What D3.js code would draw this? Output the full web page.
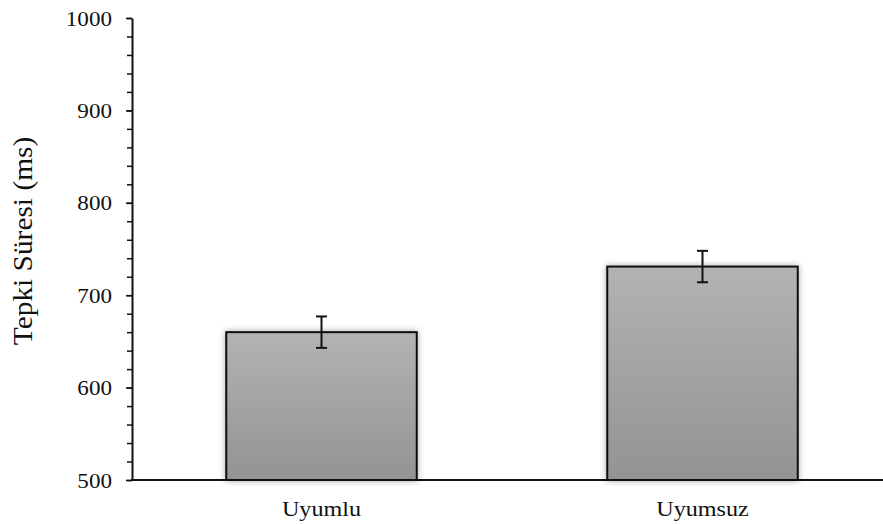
<!DOCTYPE html>
<html>
<head>
<meta charset="utf-8">
<script src="https://cdn.jsdelivr.net/npm/d3@7"></script>
<style>
  html, body { margin: 0; padding: 0; background: #fff; }
  svg { display: block; }
  text { font-family: "Liberation Serif", "Times New Roman", serif; fill: #111; }
</style>
</head>
<body>
<svg id="chart" width="883" height="524"></svg>
<script>
const categories = ["Uyumlu", "Uyumsuz"];
const means = [660, 731];
const errors = [17, 17];
const yTicks = [500, 600, 700, 800, 900, 1000];
const yMinorTicks = d3.range(500, 1001, 20);
const yTitle = "Tepki Süresi (ms)";

const svg = d3.select("#chart");
const W = 883, H = 524;
const plotLeft = 132, plotTop = 18, plotBottom = 480;

const x = d3.scaleBand().domain(categories).range([131, 893])
  .paddingInner(0.5).paddingOuter(0.25);
const y = d3.scaleLinear().domain([500, 1000]).range([plotBottom, plotTop]);

const defs = svg.append("defs");
const grad = defs.append("linearGradient").attr("id", "barGrad")
  .attr("x1", 0).attr("y1", 0).attr("x2", 0).attr("y2", 1);
grad.append("stop").attr("offset", "0%").attr("stop-color", "#b3b3b3");
grad.append("stop").attr("offset", "100%").attr("stop-color", "#939393");
const f = defs.append("filter").attr("id", "shadow")
  .attr("x", "-10%").attr("y", "-10%").attr("width", "120%").attr("height", "120%");
f.append("feDropShadow").attr("dx", 0).attr("dy", 0).attr("stdDeviation", 3)
  .attr("flood-color", "#000").attr("flood-opacity", 0.35);

// bars
svg.append("g").selectAll("rect").data(categories).join("rect")
  .attr("x", d => x(d))
  .attr("y", (d, i) => y(means[i]))
  .attr("width", x.bandwidth())
  .attr("height", (d, i) => y(500) - y(means[i]))
  .attr("fill", "url(#barGrad)")
  .attr("stroke", "#111")
  .attr("stroke-width", 2)
  .attr("filter", "url(#shadow)");

// error bars
const eb = svg.append("g").attr("stroke", "#111").attr("stroke-width", 2);
categories.forEach((c, i) => {
  const cx = x(c) + x.bandwidth() / 2;
  const y1 = y(means[i] + errors[i]), y2 = y(means[i] - errors[i]);
  eb.append("line").attr("x1", cx).attr("x2", cx).attr("y1", y1).attr("y2", y2);
  eb.append("line").attr("x1", cx - 5.5).attr("x2", cx + 5.5).attr("y1", y1).attr("y2", y1);
  eb.append("line").attr("x1", cx - 5.5).attr("x2", cx + 5.5).attr("y1", y2).attr("y2", y2);
});

// minor ticks
svg.append("g").attr("transform", `translate(${plotLeft},0)`)
  .call(d3.axisLeft(y).tickValues(yMinorTicks).tickSize(5).tickFormat(""))
  .call(g => g.select(".domain").remove())
  .call(g => g.selectAll("line").attr("stroke", "#111").attr("stroke-width", 1.5));

// major y axis
const yAxis = svg.append("g").attr("transform", `translate(${plotLeft},0)`)
  .call(d3.axisLeft(y).tickValues(yTicks).tickSize(6).tickPadding(14).tickSizeOuter(0).tickFormat(d3.format("d")));
yAxis.select(".domain").attr("stroke", "#111").attr("stroke-width", 2);
yAxis.selectAll("line").attr("stroke", "#111").attr("stroke-width", 1.5);
yAxis.selectAll("text")
  .style("font-family", "'Liberation Serif', 'Times New Roman', serif")
  .style("font-size", "21px").attr("fill", "#111")
  .attr("transform", "scale(1.1,1)")
  .attr("x", -20 / 1.1)
  .attr("dy", "0.34em");

// x axis line
svg.append("line").attr("x1", plotLeft - 1).attr("x2", W).attr("y1", plotBottom).attr("y2", plotBottom)
  .attr("stroke", "#111").attr("stroke-width", 2);

// category labels
svg.append("g").selectAll("text").data(categories).join("text")
  .attr("transform", d => `translate(${x(d) + x.bandwidth() / 2},516) scale(1.15,1)`)
  .attr("text-anchor", "middle")
  .style("font-size", "21px")
  .text(d => d);

// y title
svg.append("text")
  .attr("transform", "translate(32,241) rotate(-90) scale(1.05,1)")
  .attr("text-anchor", "middle")
  .style("font-size", "28px")
  .text(yTitle);
</script>
</body>
</html>
